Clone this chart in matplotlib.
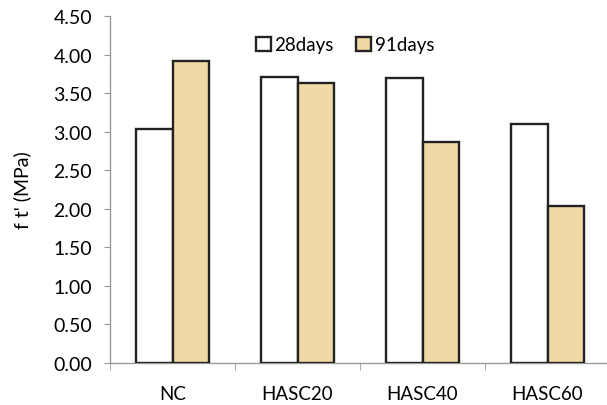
import matplotlib.pyplot as plt
import numpy as np

# Tensile strength at two curing ages
mixes = ["NC", "HASC20", "HASC40", "HASC60"]
days28 = [3.04, 3.71, 3.69, 3.10]
days91 = [3.91, 3.63, 2.87, 2.04]
yticks = [0.0, 0.5, 1.0, 1.5, 2.0, 2.5, 3.0, 3.5, 4.0, 4.5]

plt.rcParams["font.family"] = ["Lato", "DejaVu Sans"]

fig = plt.figure(figsize=(6.07, 4.06), dpi=100)
ax = fig.add_axes([110 / 607, 42 / 406, 500 / 607, 347 / 406])

x = np.arange(len(mixes))
w = 0.29
ax.bar(x - w / 2, days28, w, color="white", edgecolor="#222222", linewidth=1.7,
       label="28days", zorder=3)
ax.bar(x + w / 2, days91, w, color="#efdaa6", edgecolor="#222222", linewidth=1.7,
       label="91days", zorder=3)

ax.set_xlim(-0.5, 3.5)
ax.set_ylim(0, 4.5)
ax.set_yticks(yticks)
ax.set_yticklabels([f"{v:.2f}" for v in yticks])
ax.set_xticks(x)
ax.set_xticklabels(mixes)
ax.set_xticks(np.arange(-0.5, 4.0, 1.0), minor=True)
ax.tick_params(axis="x", which="major", length=0, pad=16, labelsize=13.5)
ax.tick_params(axis="x", which="minor", length=5, color="#999999")
ax.tick_params(axis="y", length=4, color="#999999", labelsize=14, pad=9)

for s in ("top", "right"):
    ax.spines[s].set_visible(False)
for s in ("left", "bottom"):
    ax.spines[s].set_color("#999999")
    ax.spines[s].set_linewidth(1.0)

ax.set_ylabel("f t' (MPa)", fontsize=14, labelpad=16)

ax.legend(loc="upper center", bbox_to_anchor=(0.47, 0.99), ncol=2, frameon=False,
          fontsize=13.5, handlelength=0.8, handleheight=0.8, handletextpad=0.2,
          columnspacing=1.2)

fig.savefig("out.png", dpi=100)
